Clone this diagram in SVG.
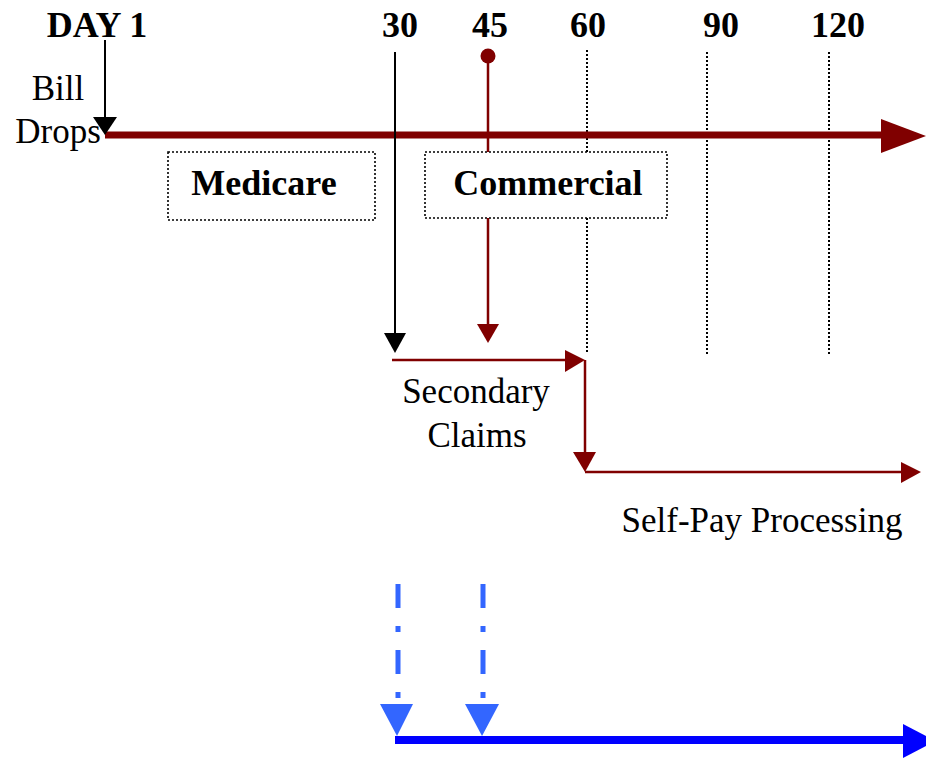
<svg xmlns="http://www.w3.org/2000/svg" width="926" height="759" viewBox="0 0 926 759">
<style>
text{font-family:"Liberation Serif","Times New Roman",serif;fill:#000}
.b{font-weight:bold;font-size:36px;text-anchor:middle}
.n{font-size:35px;text-anchor:middle}
.dot{stroke:#000;stroke-width:2;stroke-dasharray:2 2;fill:none}
.box{fill:#fff;stroke:#000;stroke-width:1.6;stroke-dasharray:2 2}
.red{stroke:#800000;stroke-width:2.5;fill:none}
.dd{stroke:#3366FF;stroke-width:5;stroke-dasharray:24 18 6 18;fill:none}
</style>
<rect width="926" height="759" fill="#fff"/>
<g id="labels">
<text class="b" x="97" y="37">DAY 1</text>
<text class="b" x="400" y="37">30</text>
<text class="b" x="490" y="37">45</text>
<text class="b" x="588" y="37">60</text>
<text class="b" x="721" y="37">90</text>
<text class="b" x="838" y="37">120</text>
</g>
<g id="connectors">
<line class="dot" x1="587" y1="50" x2="587" y2="352"/>
<line class="dot" x1="707" y1="52" x2="707" y2="355"/>
<line class="dot" x1="829" y1="52" x2="829" y2="355"/>
<line x1="105" y1="135" x2="885" y2="135" stroke="#800000" stroke-width="7"/>
<polygon points="881,119 926,136 881,153" fill="#800000"/>
<line x1="105" y1="40" x2="105" y2="120" stroke="#000" stroke-width="2"/>
<polygon points="93,117 117,117 105,135" fill="#000"/>
<line x1="395" y1="52" x2="395" y2="336" stroke="#000" stroke-width="2"/>
<polygon points="384,333 406,333 395,353" fill="#000"/>
<circle cx="488" cy="56" r="7.5" fill="#800000"/>
<line class="red" x1="488" y1="56" x2="488" y2="326"/>
<polygon points="477,324 499,324 488,343" fill="#800000"/>
<line class="red" x1="392" y1="360" x2="568" y2="360"/>
<polygon points="565,350 585,360 565,372" fill="#800000"/>
<line class="red" x1="585" y1="360" x2="585" y2="455"/>
<polygon points="573,452 596,452 585,472" fill="#800000"/>
<line class="red" x1="585" y1="472" x2="903" y2="472"/>
<polygon points="901,462 921,472 901,483" fill="#800000"/>
<line class="dd" x1="398" y1="584" x2="398" y2="700"/>
<line class="dd" x1="483" y1="584" x2="483" y2="700"/>
<polygon points="380,704 413,704 397,736" fill="#3366FF"/>
<polygon points="465,704 499,704 482,736" fill="#3366FF"/>
<line x1="395" y1="740" x2="906" y2="740" stroke="#0000FF" stroke-width="8"/>
<polygon points="903,724 926,736 926,746 903,758" fill="#0000FF"/>
</g>
<g id="medicare">
<rect class="box" x="168" y="152" width="207" height="68"/>
<text class="b" x="264" y="195">Medicare</text>
</g>
<g id="commercial">
<rect class="box" x="425" y="152" width="242" height="66"/>
<text class="b" x="548" y="195">Commercial</text>
</g>
<g id="bill-drops">
<text class="n" x="58" y="100">Bill</text>
<text class="n" x="58" y="143">Drops</text>
</g>
<g id="secondary">
<text class="n" x="476" y="403">Secondary</text>
<text class="n" x="477" y="447">Claims</text>
</g>
<g id="selfpay">
<text class="n" x="762" y="532">Self-Pay Processing</text>
</g>
</svg>
